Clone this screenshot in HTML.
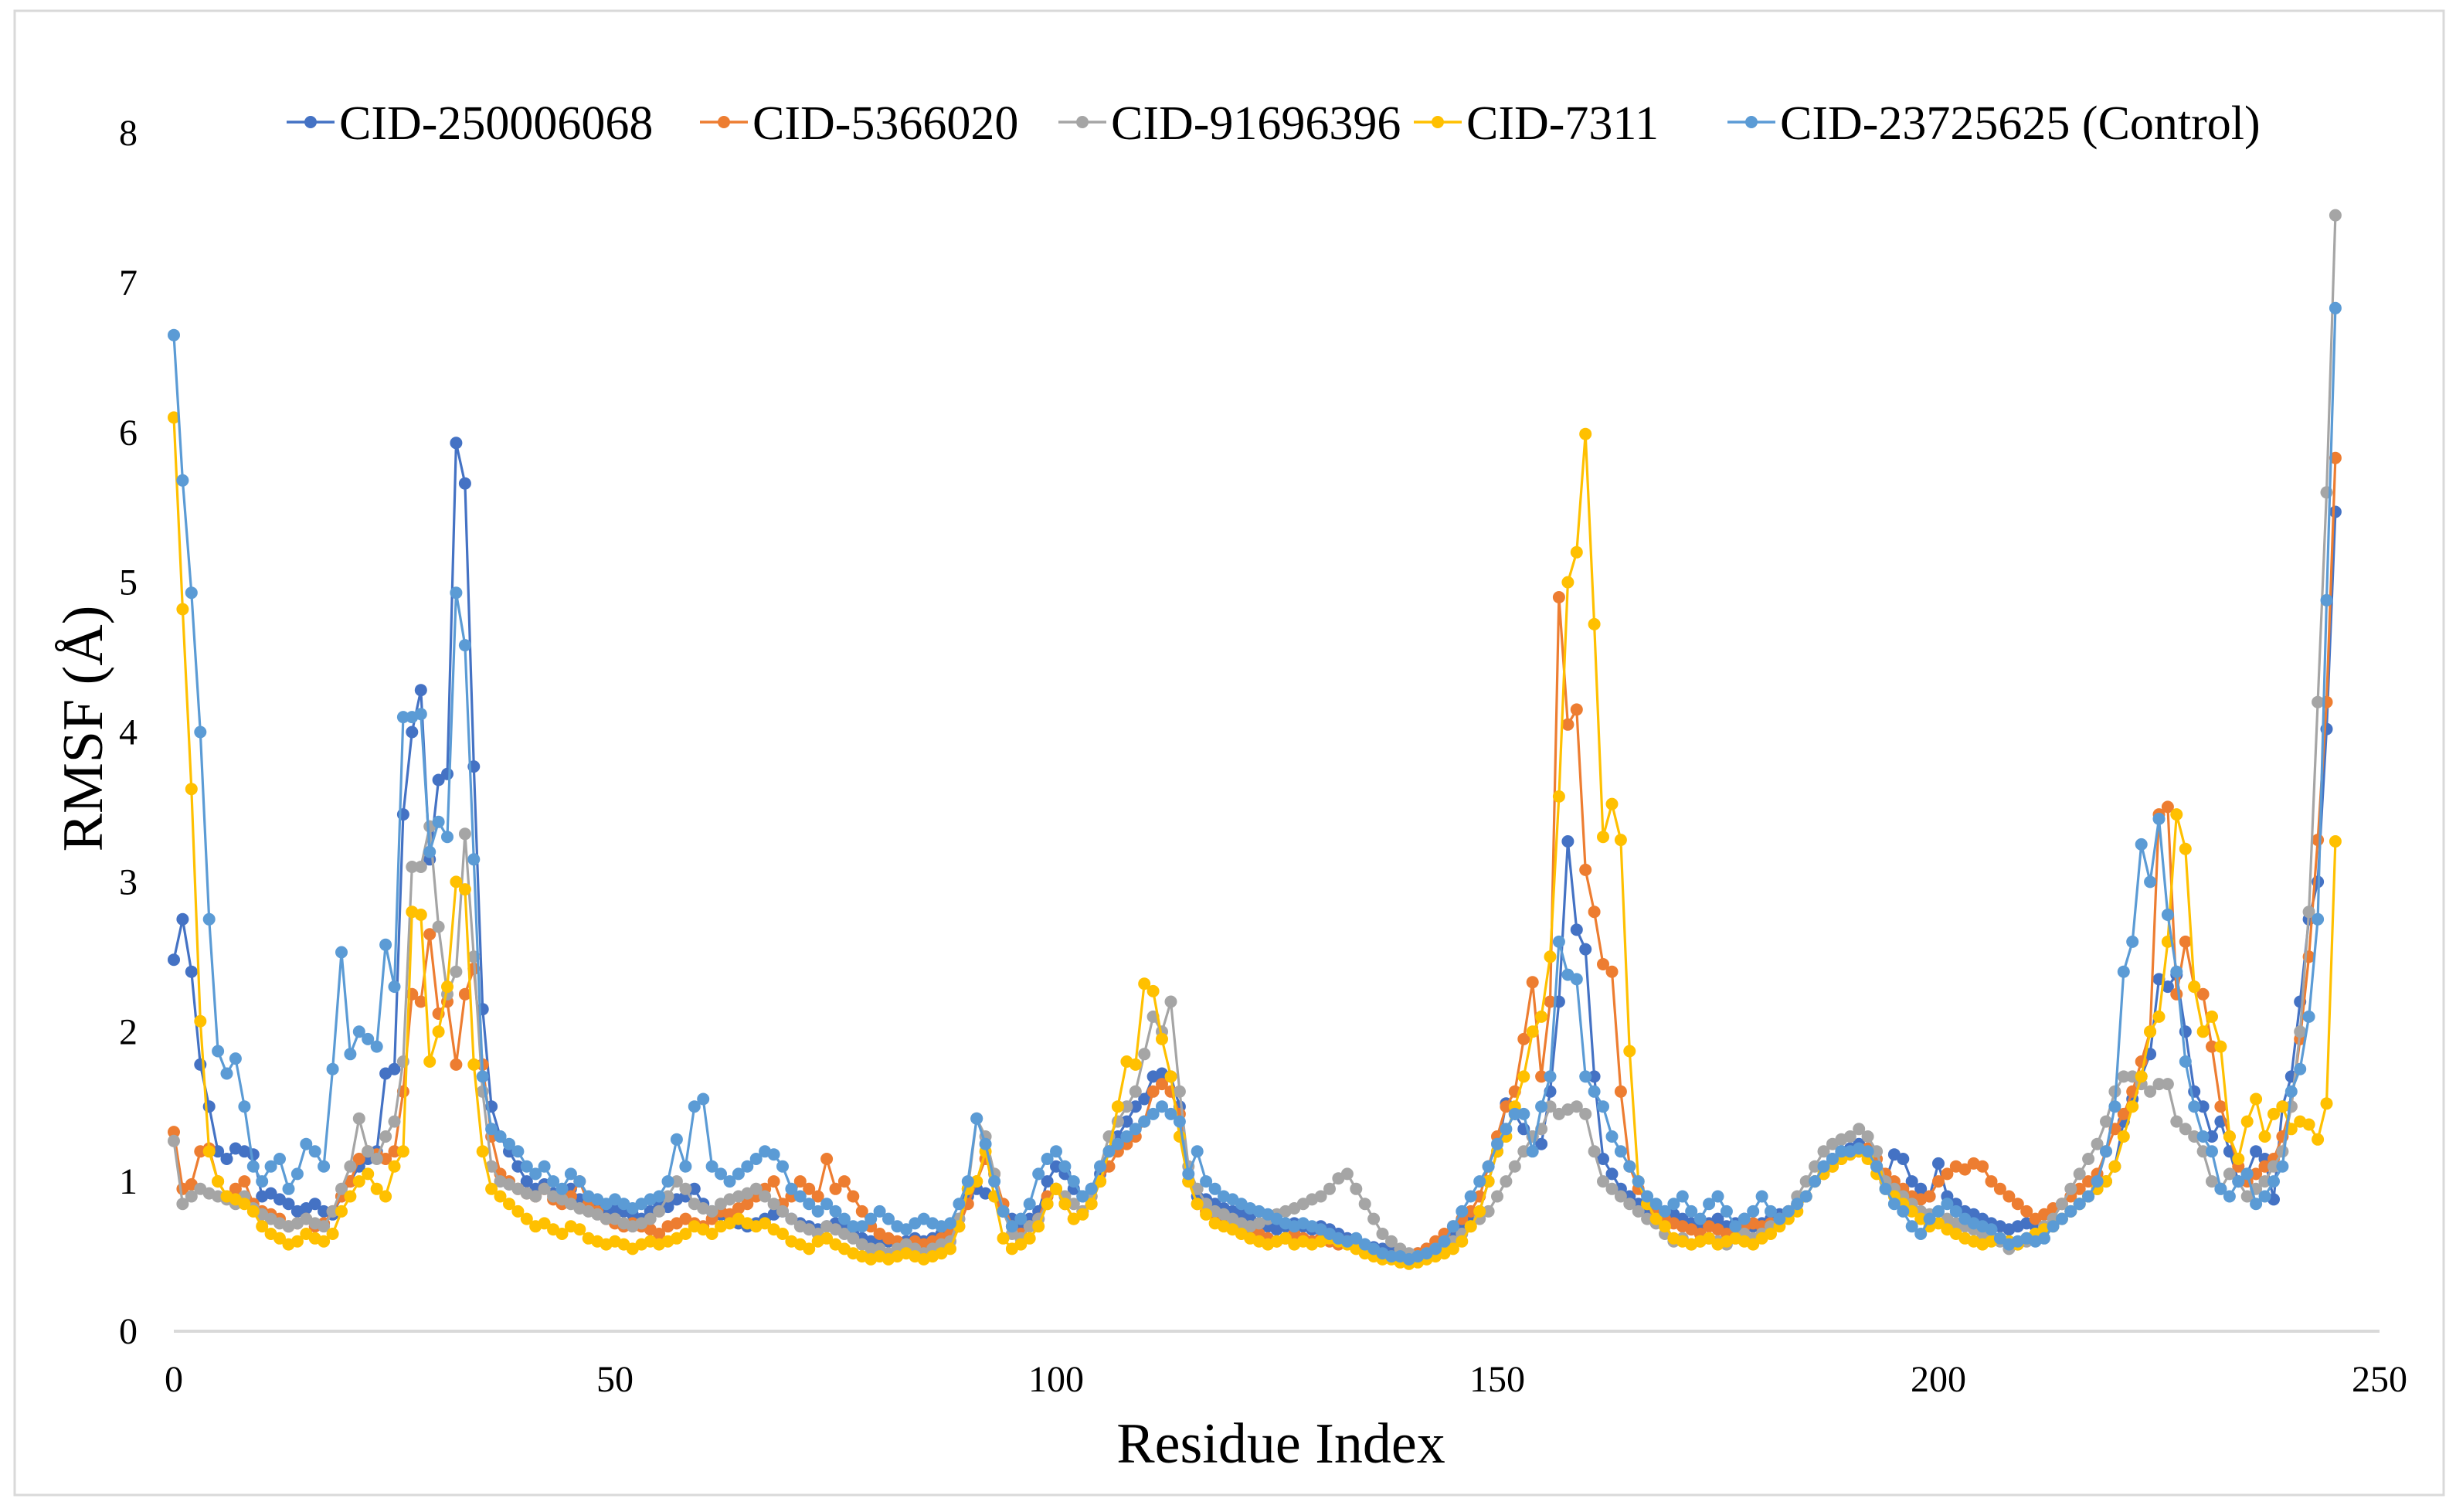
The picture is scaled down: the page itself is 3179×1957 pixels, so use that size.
<!DOCTYPE html>
<html><head><meta charset="utf-8">
<style>
html,body{margin:0;padding:0;background:#fff;}
svg{display:block;}
text{font-family:"Liberation Serif","DejaVu Serif",serif;fill:#000;}
</style></head>
<body>
<svg id="chart" width="3179" height="1957" viewBox="0 0 3179 1957" xmlns="http://www.w3.org/2000/svg">
<rect x="19" y="14" width="3144" height="1921" fill="#fff" stroke="#d9d9d9" stroke-width="3"/>
<g id="yticks"></g>
<g id="xticks"></g>
<line x1="225" y1="1723" x2="3080" y2="1723" stroke="#d9d9d9" stroke-width="4"/>
<g id="series"></g>
<g id="legend"></g>
<text x="0" y="0" font-size="74" text-anchor="middle" transform="translate(132,943) rotate(-90)">RMSF (Å)</text>
<text x="1658" y="1893" font-size="74" text-anchor="middle">Residue Index</text>
</svg>
<script>
const seriesNames = ["CID-250006068","CID-5366020","CID-91696396","CID-7311","CID-23725625 (Control)"];
const seriesColors = ["#4472C4","#ED7D31","#A5A5A5","#FFC000","#5B9BD5"];
const yTickLabels = ["0","1","2","3","4","5","6","7","8"];
const xTickLabels = ["0","50","100","150","200","250"];
const s1 = [
2.48,2.75,2.4,1.78,1.5,1.2,1.15,1.22,1.2,1.18,
0.9,0.92,0.88,0.85,0.8,0.82,0.85,0.8,0.78,0.9,
1.0,1.1,1.15,1.2,1.72,1.75,3.45,4.0,4.28,3.15,
3.68,3.72,5.93,5.66,3.77,2.15,1.5,1.3,1.2,1.1,
1.0,0.95,0.98,0.92,0.9,0.95,0.88,0.85,0.82,0.8,
0.82,0.8,0.78,0.75,0.8,0.85,0.83,0.88,0.9,0.95,
0.85,0.8,0.78,0.75,0.72,0.7,0.72,0.75,0.78,0.8,
0.75,0.72,0.7,0.68,0.7,0.72,0.7,0.65,0.62,0.6,
0.62,0.6,0.58,0.6,0.62,0.6,0.62,0.65,0.7,0.75,
0.9,0.95,0.92,0.9,0.8,0.75,0.7,0.75,0.8,1.0,
1.1,1.05,0.95,0.9,0.95,1.05,1.2,1.3,1.4,1.5,
1.55,1.7,1.72,1.7,1.5,1.0,0.9,0.88,0.85,0.82,
0.8,0.78,0.75,0.72,0.7,0.68,0.7,0.72,0.7,0.68,
0.7,0.68,0.65,0.62,0.6,0.58,0.56,0.55,0.55,0.52,
0.5,0.52,0.55,0.58,0.6,0.65,0.7,0.75,0.8,1.0,
1.2,1.52,1.45,1.35,1.3,1.25,1.6,2.2,3.27,2.68,
2.55,1.7,1.15,1.05,0.95,0.9,0.85,0.8,0.78,0.8,
0.78,0.75,0.72,0.7,0.72,0.75,0.7,0.72,0.75,0.7,
0.72,0.75,0.78,0.8,0.85,0.9,1.0,1.1,1.15,1.2,
1.22,1.25,1.2,1.1,1.0,1.18,1.15,1.0,0.95,0.9,
1.12,0.9,0.85,0.8,0.78,0.75,0.72,0.7,0.68,0.7,
0.72,0.7,0.68,0.72,0.75,0.8,0.85,0.9,0.95,1.0,
1.1,1.4,1.55,1.7,1.85,2.35,2.3,2.38,2.0,1.6,
1.5,1.3,1.4,1.2,1.0,1.05,1.2,1.15,0.88,1.5,
1.7,2.2,2.75,3.0,4.02,5.47];
const s2 = [
1.33,0.95,0.98,1.2,1.22,1.0,0.9,0.95,1.0,0.85,
0.8,0.78,0.75,0.7,0.72,0.75,0.7,0.72,0.8,0.9,
1.0,1.15,1.2,1.18,1.15,1.2,1.6,2.25,2.2,2.65,
2.12,2.2,1.78,2.25,2.42,1.78,1.3,1.05,1.0,0.95,
0.92,0.9,0.95,0.88,0.85,0.9,1.0,0.85,0.8,0.75,
0.72,0.7,0.72,0.7,0.68,0.65,0.7,0.72,0.75,0.72,
0.7,0.75,0.8,0.78,0.82,0.85,0.9,0.95,1.0,0.85,
0.9,1.0,0.95,0.9,1.15,0.95,1.0,0.9,0.8,0.7,
0.65,0.62,0.6,0.58,0.6,0.58,0.6,0.62,0.65,0.7,
0.85,1.0,1.15,1.05,0.85,0.7,0.65,0.7,0.75,0.9,
0.95,0.85,0.75,0.8,0.9,1.0,1.1,1.2,1.25,1.3,
1.4,1.6,1.65,1.6,1.45,1.0,0.85,0.8,0.78,0.75,
0.72,0.7,0.68,0.65,0.62,0.6,0.62,0.65,0.62,0.6,
0.62,0.6,0.58,0.6,0.58,0.55,0.52,0.5,0.5,0.48,
0.5,0.52,0.55,0.6,0.65,0.7,0.75,0.8,0.9,1.1,
1.3,1.5,1.6,1.95,2.33,1.7,2.2,4.9,4.05,4.15,
3.08,2.8,2.45,2.4,1.6,1.1,0.95,0.85,0.8,0.75,
0.72,0.7,0.68,0.65,0.7,0.68,0.65,0.68,0.7,0.72,
0.7,0.72,0.75,0.8,0.85,0.9,1.0,1.05,1.1,1.15,
1.18,1.2,1.22,1.15,1.05,1.0,0.95,0.9,0.88,0.9,
1.0,1.05,1.1,1.08,1.12,1.1,1.0,0.95,0.9,0.85,
0.8,0.75,0.78,0.82,0.85,0.9,0.95,1.0,1.05,1.2,
1.35,1.45,1.6,1.8,2.0,3.45,3.5,2.25,2.6,2.3,
2.25,1.9,1.5,1.3,1.1,1.0,1.05,1.1,1.15,1.3,
1.5,1.95,2.5,3.28,4.2,5.83];
const s3 = [
1.27,0.85,0.9,0.95,0.92,0.9,0.88,0.85,0.9,0.82,
0.78,0.75,0.72,0.7,0.72,0.75,0.72,0.7,0.8,0.95,
1.1,1.42,1.2,1.15,1.3,1.4,1.8,3.1,3.1,3.37,
2.7,2.25,2.4,3.32,2.5,1.6,1.1,1.0,0.98,0.95,
0.92,0.9,0.95,0.9,0.88,0.85,0.82,0.8,0.78,0.75,
0.75,0.72,0.7,0.72,0.75,0.8,0.9,1.0,0.95,0.85,
0.82,0.8,0.85,0.88,0.9,0.92,0.95,0.9,0.85,0.8,
0.75,0.7,0.68,0.65,0.7,0.68,0.65,0.62,0.58,0.55,
0.55,0.52,0.55,0.58,0.55,0.52,0.55,0.58,0.6,0.75,
0.95,1.42,1.3,1.05,0.8,0.65,0.62,0.7,0.75,0.85,
0.95,0.9,0.85,0.8,0.9,1.1,1.3,1.4,1.5,1.6,
1.85,2.1,2.0,2.2,1.6,1.1,0.95,0.85,0.8,0.78,
0.75,0.72,0.7,0.72,0.75,0.78,0.8,0.82,0.85,0.88,
0.9,0.95,1.02,1.05,0.95,0.85,0.75,0.65,0.6,0.55,
0.52,0.5,0.52,0.55,0.58,0.6,0.65,0.7,0.75,0.8,
0.9,1.0,1.1,1.2,1.3,1.35,1.5,1.45,1.48,1.5,
1.45,1.2,1.0,0.95,0.9,0.85,0.8,0.75,0.72,0.65,
0.6,0.62,0.58,0.6,0.62,0.6,0.58,0.62,0.65,0.62,
0.65,0.7,0.75,0.8,0.9,1.0,1.1,1.2,1.25,1.28,
1.3,1.35,1.3,1.2,1.0,0.95,0.9,0.85,0.8,0.78,
0.8,0.75,0.72,0.7,0.68,0.65,0.62,0.6,0.55,0.58,
0.6,0.65,0.7,0.75,0.85,0.95,1.05,1.15,1.25,1.4,
1.6,1.7,1.7,1.65,1.6,1.65,1.65,1.4,1.35,1.3,
1.2,1.0,0.95,1.05,1.0,0.9,0.95,1.0,1.1,1.2,
1.5,2.0,2.8,4.2,5.6,7.45];
const s4 = [
6.1,4.82,3.62,2.07,1.2,1.0,0.9,0.88,0.85,0.8,
0.7,0.65,0.62,0.58,0.6,0.65,0.62,0.6,0.65,0.8,
0.9,1.0,1.05,0.95,0.9,1.1,1.2,2.8,2.78,1.8,
2.0,2.3,3.0,2.95,1.78,1.2,0.95,0.9,0.85,0.8,
0.75,0.7,0.72,0.68,0.65,0.7,0.68,0.62,0.6,0.58,
0.6,0.58,0.55,0.58,0.6,0.58,0.6,0.62,0.65,0.7,
0.68,0.65,0.7,0.72,0.75,0.72,0.7,0.72,0.68,0.65,
0.6,0.58,0.55,0.6,0.62,0.58,0.55,0.52,0.5,0.48,
0.5,0.48,0.5,0.52,0.5,0.48,0.5,0.52,0.55,0.7,
0.95,1.0,1.2,0.9,0.62,0.55,0.58,0.62,0.7,0.85,
0.95,0.85,0.75,0.78,0.85,1.0,1.2,1.5,1.8,1.78,
2.32,2.27,1.95,1.7,1.3,1.0,0.85,0.78,0.72,0.7,
0.68,0.65,0.62,0.6,0.58,0.6,0.62,0.58,0.6,0.58,
0.6,0.62,0.6,0.58,0.55,0.52,0.5,0.48,0.48,0.46,
0.45,0.46,0.48,0.5,0.52,0.55,0.6,0.7,0.8,1.0,
1.2,1.3,1.5,1.7,2.0,2.1,2.5,3.57,5.0,5.2,
5.99,4.72,3.3,3.52,3.28,1.87,1.0,0.85,0.75,0.7,
0.62,0.6,0.58,0.6,0.62,0.58,0.6,0.62,0.6,0.58,
0.62,0.65,0.7,0.75,0.8,0.9,1.0,1.05,1.1,1.15,
1.18,1.2,1.15,1.05,0.95,0.9,0.85,0.8,0.75,0.7,
0.72,0.68,0.65,0.62,0.6,0.58,0.6,0.62,0.6,0.58,
0.62,0.65,0.68,0.7,0.75,0.8,0.85,0.9,0.95,1.0,
1.1,1.3,1.5,1.7,2.0,2.1,2.6,3.45,3.22,2.3,
2.0,2.1,1.9,1.3,1.15,1.4,1.55,1.3,1.45,1.5,
1.35,1.4,1.38,1.28,1.52,3.27];
const s5 = [
6.65,5.68,4.93,4.0,2.75,1.87,1.72,1.82,1.5,1.1,
1.0,1.1,1.15,0.95,1.05,1.25,1.2,1.1,1.75,2.53,
1.85,2.0,1.95,1.9,2.58,2.3,4.1,4.1,4.12,3.2,
3.4,3.3,4.93,4.58,3.15,1.7,1.35,1.3,1.25,1.2,
1.1,1.05,1.1,1.0,0.95,1.05,1.0,0.9,0.88,0.85,
0.88,0.85,0.82,0.85,0.88,0.9,1.0,1.28,1.1,1.5,
1.55,1.1,1.05,1.0,1.05,1.1,1.15,1.2,1.18,1.1,
0.95,0.9,0.85,0.8,0.85,0.8,0.75,0.7,0.7,0.75,
0.8,0.75,0.7,0.68,0.72,0.75,0.72,0.7,0.72,0.85,
1.0,1.42,1.25,1.0,0.8,0.7,0.75,0.85,1.05,1.15,
1.2,1.1,1.0,0.9,0.95,1.1,1.2,1.25,1.3,1.35,
1.4,1.45,1.5,1.45,1.4,1.05,1.2,1.0,0.95,0.9,
0.88,0.85,0.82,0.8,0.78,0.75,0.72,0.7,0.72,0.7,
0.68,0.65,0.62,0.6,0.62,0.58,0.55,0.52,0.5,0.5,
0.48,0.5,0.52,0.55,0.6,0.7,0.8,0.9,1.0,1.1,
1.25,1.35,1.45,1.45,1.2,1.5,1.7,2.6,2.38,2.35,
1.7,1.6,1.5,1.3,1.2,1.1,1.0,0.9,0.85,0.8,
0.85,0.9,0.8,0.75,0.85,0.9,0.8,0.7,0.75,0.8,
0.9,0.8,0.75,0.8,0.85,0.9,1.0,1.1,1.15,1.2,
1.2,1.22,1.2,1.1,0.95,0.85,0.8,0.7,0.65,0.75,
0.8,0.85,0.8,0.75,0.72,0.7,0.68,0.62,0.58,0.6,
0.62,0.6,0.62,0.7,0.75,0.8,0.85,0.9,1.0,1.2,
1.5,2.4,2.6,3.25,3.0,3.42,2.78,2.4,1.8,1.5,
1.3,1.2,0.95,0.9,1.0,1.05,0.85,0.9,1.0,1.1,
1.6,1.75,2.1,2.75,4.88,6.83];
const allSeries = [s1,s2,s3,s4,s5];

const X0=225, X1=3080, Y0=1723, Y1=172;
function xs(v){return X0+(v/250)*(X1-X0);}
function ys(v){return Y0-(v/8)*(Y0-Y1);}
const NS="http://www.w3.org/2000/svg";
function mk(tag,attrs,parent){const e=document.createElementNS(NS,tag);for(const k in attrs)e.setAttribute(k,attrs[k]);parent.appendChild(e);return e;}

const yg=document.getElementById('yticks');
yTickLabels.forEach(function(l){
  const t=mk('text',{x:178,y:ys(+l)+16,'font-size':48,'text-anchor':'end'},yg);
  
  
  t.textContent=l;
});
const xg=document.getElementById('xticks');
xTickLabels.forEach(function(l){
  const t=mk('text',{x:xs(+l),y:1801,'font-size':48,'text-anchor':'middle'},xg);
  
  
  t.textContent=l;
});

const sg=document.getElementById('series');
allSeries.forEach(function(arr,si){
  const g=mk('g',{},sg);
  
  
  const pts=arr.map(function(v,i){return xs(i).toFixed(1)+','+ys(v).toFixed(1);}).join(' ');
  const pl=mk('polyline',{points:pts,fill:'none',stroke:seriesColors[si],'stroke-width':3.2},g);
  
  
  arr.forEach(function(v,i){
    const c=mk('circle',{cx:xs(i).toFixed(1),cy:ys(v).toFixed(1),r:8,fill:seriesColors[si]},g);
    
    
  });
});

const lg=document.getElementById('legend');
const legendLineX=[371,906,1370,1830,2236];
seriesNames.forEach(function(n,i){
  const g=mk('g',{},lg);
  
  
  const lx=legendLineX[i];
  mk('line',{x1:lx,y1:158,x2:lx+62,y2:158,stroke:seriesColors[i],'stroke-width':3.5},g);
  mk('circle',{cx:lx+31,cy:158,r:8,fill:seriesColors[i]},g);
  const t=mk('text',{x:lx+68,y:180,'font-size':62},g);
  
  
  t.textContent=n;
});
</script>
</body></html>
